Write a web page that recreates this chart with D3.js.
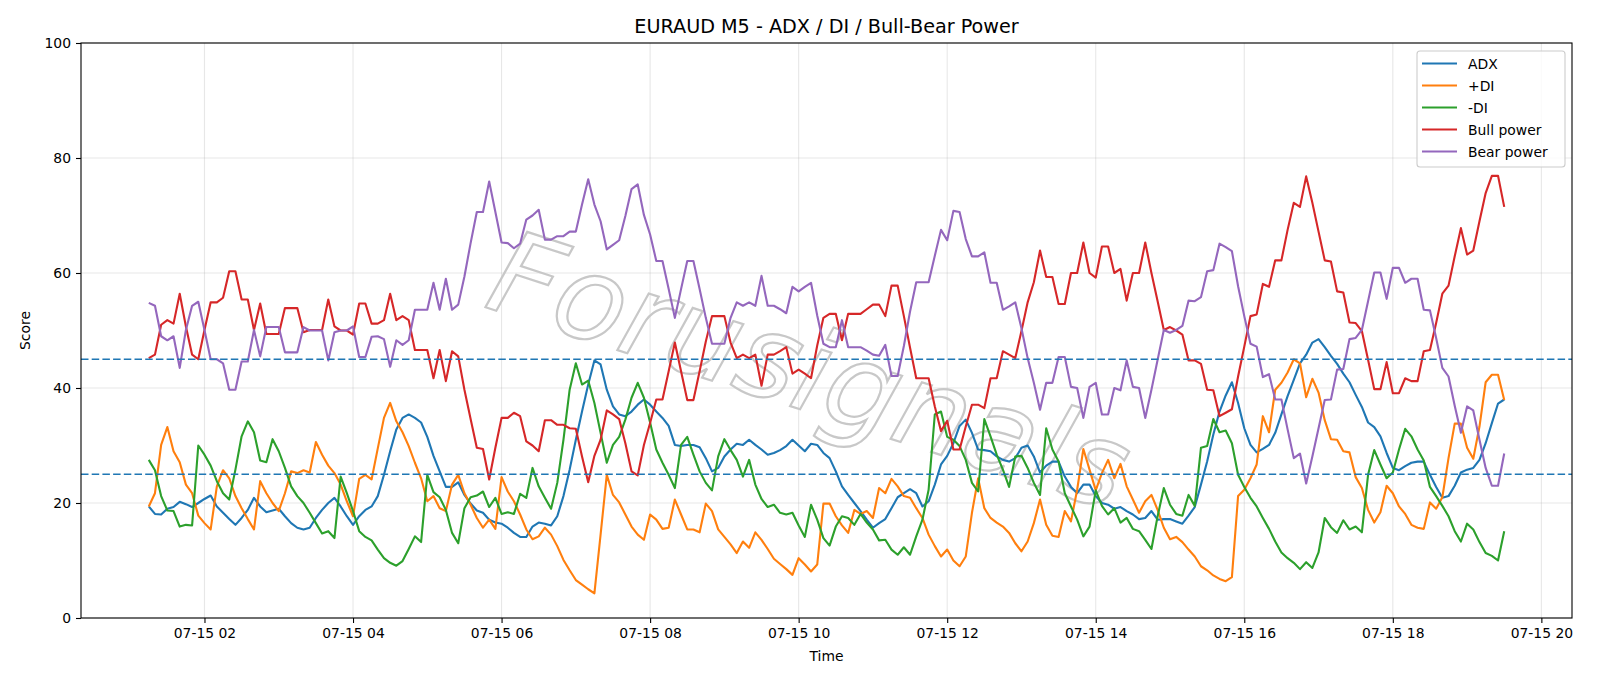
<!DOCTYPE html>
<html>
<head>
<meta charset="utf-8">
<script src="https://cdn.jsdelivr.net/npm/d3@7"></script>
<style>
  body { margin: 0; background: #fff; }
  svg { display: block; font-family: "DejaVu Sans", sans-serif; }
</style>
</head>
<body>
<svg id="chart" width="1600" height="686"></svg>
<script>
// 5 minute bars, 07-15 01:15 .. 19:30 (UTC)
const startTime = Date.UTC(2025, 6, 15, 1, 15);
const stepMinutes = 5;

const adx = [
  19.4, 18.1, 18, 19, 19.3, 20.2, 19.8, 19.3, 20, 20.7, 21.3, 19.4, 18.3, 17.2, 16.2, 17.4, 18.8, 20.9, 19.4, 18.4, 18.7, 19, 17.7, 16.5, 15.7, 15.4, 15.7, 17.4, 18.8, 20, 20.9, 19.4, 17.7, 16.2, 17.7, 18.8, 19.4,
  21.2, 24.9, 29, 32.8, 34.8, 35.4, 34.8, 34, 31.5, 28.2, 25.5, 22.8, 22.8, 23.6, 21.4, 19.9, 18.7, 18.3, 17.1, 16.6, 16.4, 15.7, 14.8, 14.1, 14.1, 15.9, 16.6, 16.4, 16.1, 17.7, 21.2, 25.8, 31, 35.9, 40.6, 44.8, 44.1,
  39.7, 36.8, 35.4, 35.1, 35.9, 37.1, 38, 37.1, 35.9, 34.8, 33.4, 30.1, 29.9, 30.1, 30.1, 29.7, 27.8, 25.5, 26.1, 28.1, 29.3, 30.3, 30.1, 31, 30.1, 29.3, 28.4, 28.7, 29.2, 29.9, 31, 30, 29, 30.3, 30.1, 28.7, 27.8,
  25.5, 22.9, 21.4, 20, 18.6, 17.1, 15.7, 16.5, 17.2, 19.1, 21, 21.7, 22.4, 21.7, 19.4, 20.3, 23.2, 26.7, 28.2, 30.4, 33.4, 34.5, 32.2, 29.3, 29.2, 29, 28.1, 27.5, 27.2, 27.8, 29.6, 30, 28.1, 25.3, 26.5, 27.2, 27.2,
  24.6, 22.8, 21.7, 23.2, 23.2, 21.2, 20, 19.7, 19, 19.3, 18.6, 18, 17.2, 17.4, 18.6, 17.1, 17.2, 17.2, 16.8, 16.4, 17.8, 19.3, 23.2, 27.2, 31.9, 35.9, 38.7, 41, 37.4, 33, 30.1, 28.8, 29.4, 30.1, 32.2, 35.4, 38.6,
  41.4, 44.3, 45.8, 47.9, 48.5, 47.1, 45.6, 44.2, 42.5, 41, 38.8, 36.7, 34, 33.2, 31.6, 28.7, 26.1, 25.7, 26.4, 27, 27.2, 27.2, 24.9, 22.8, 20.9, 21.2, 23, 25.3, 25.8, 26.1, 27.5, 30.4, 33.9, 37.3, 38
];

const plusDi = [
  19.4, 21.7, 30.1, 33.2, 29, 27.1, 23.2, 21.7, 17.8, 16.5, 15.4, 22.9, 25.7, 24.3, 21.2, 19.1, 17.2, 15.4, 23.8, 21.7, 20, 18.6, 21.7, 25.5, 25.2, 25.7, 25.3, 30.6, 28.4, 26.5, 25.2, 23.2, 20.3, 17.7, 24.2, 24.9, 24.1,
  29.5, 34.8, 37.4, 34.2, 32.3, 29.9, 27, 24.3, 20.3, 21.2, 19.1, 18.6, 23.2, 24.9, 21.7, 19.7, 17.4, 15.7, 17.1, 15.5, 24.5, 22, 20.3, 18, 15.4, 13.7, 14.2, 15.7, 14.5, 12.5, 10.1, 8.3, 6.6, 5.8, 5, 4.3, 14.5,
  24.9, 21.4, 20.1, 18, 15.9, 14.5, 13.6, 18, 17.1, 15.5, 15.7, 20.6, 18, 15.4, 15.4, 14.9, 19.9, 18.6, 15.4, 14.1, 12.8, 11.3, 13.3, 12.2, 14.9, 13.6, 12, 10.3, 9.4, 8.5, 7.5, 10.4, 9.3, 8.1, 9.3, 19.9, 19.9,
  17.7, 16.1, 14.8, 18.8, 18.1, 18.6, 17.4, 22.6, 21.7, 24.2, 22.9, 21.2, 20.9, 19.1, 17.4, 14.5, 12.5, 10.7, 11.9, 10, 9, 10.7, 18.3, 24.3, 19.1, 17.4, 16.6, 15.9, 14.8, 13, 11.6, 13.3, 16.5, 20.6, 16.2, 14.3, 14.1,
  18.6, 16.8, 22.3, 29.4, 25.8, 22.2, 25.2, 27.5, 24.3, 26.8, 22.9, 20.6, 18.3, 20.3, 21.4, 18.8, 15.7, 13.7, 14.1, 13.2, 11.9, 10.7, 9, 8.3, 7.4, 6.8, 6.4, 7.1, 21.2, 22.3, 24.3, 26.7, 35.1, 32.3, 39.7, 40.9, 42.7,
  45, 44.3, 38.4, 41.6, 39.2, 34.4, 31.1, 31, 29, 28.8, 24.5, 22.6, 18.8, 16.6, 18.4, 23, 21.7, 19.4, 18.1, 16.2, 15.7, 15.5, 20.1, 19, 21, 27.8, 33.8, 33.8, 29.6, 27.7, 33.3, 41, 42.3, 42.3, 37.9
];

const minusDi = [
  27.5, 25.7, 21.2, 18.7, 18.6, 15.9, 16.2, 16.1, 30, 28.4, 26.5, 23.8, 21.7, 20.6, 25.8, 31.6, 34.2, 32.3, 27.4, 27.1, 31.1, 29, 26.1, 22.9, 21.2, 20, 18.3, 16.5, 14.7, 15.1, 13.9, 24.6, 21.7, 18.6, 15.1, 14.1, 13.5,
  11.9, 10.4, 9.6, 9.1, 9.9, 12, 14.2, 13.2, 24.9, 21.9, 21, 18.8, 14.8, 13, 19.1, 21, 21.3, 22, 19.3, 20.9, 18.1, 18.4, 18.1, 21.6, 20.9, 26.1, 22.9, 20.9, 19, 23.5, 31, 39.7, 44.3, 40.6, 41.3, 37.4, 32.2,
  27, 30.1, 31.5, 34.5, 38.3, 40.9, 38.3, 34, 29.3, 27, 24.9, 22.6, 30.1, 31.5, 28.4, 25.5, 23.5, 22.2, 28.1, 31.1, 29.2, 27.5, 24.6, 27.5, 23.2, 20.7, 19.3, 19.7, 18.3, 18, 18.3, 16.1, 14.1, 19.7, 17.1, 13.9, 12.6,
  15.9, 17.7, 17.4, 16.2, 18.1, 16.6, 15.4, 13.5, 13.6, 11.9, 11, 12.3, 11, 14.2, 17.1, 22.3, 35.4, 35.9, 31.5, 31, 29.9, 27.5, 23.5, 22, 34.6, 31.6, 28.4, 25.8, 22.8, 28.1, 28.2, 26.1, 23.5, 21.4, 33, 29.3, 27.2,
  21.7, 19.4, 17.1, 14.2, 15.9, 22.2, 19.5, 18, 19.1, 16.6, 17.4, 15.5, 15.1, 13.6, 12, 17.7, 22.6, 19.7, 18.1, 17.8, 21.4, 19.5, 29.6, 29.9, 34.6, 32.3, 32.6, 30.4, 24.9, 22.8, 20.9, 19.4, 17.4, 15.5, 13.3, 11.4, 10.4,
  9.6, 8.5, 9.7, 8.7, 11.4, 17.4, 15.8, 14.8, 17, 15.4, 15.9, 14.9, 24.9, 29.2, 26.7, 24.3, 25.3, 29.3, 32.9, 31.6, 29.3, 27.4, 22.8, 21.2, 19.5, 17.7, 15.1, 13.3, 16.4, 15.4, 13.2, 11.3, 10.8, 10, 15.1
];

const bullPower = [
  45.2, 45.8, 51, 51.8, 51.2, 56.4, 50.7, 45.8, 45, 50.1, 54.9, 54.9, 55.7, 60.3, 60.3, 55.4, 55.4, 50.1, 54.7, 49.4, 49.4, 49.4, 53.9, 53.9, 53.9, 49.7, 50.1, 50.1, 50.1, 55.4, 50.7, 50, 50, 49.3, 54.7, 54.7, 51.2,
  51.2, 51.8, 56.4, 51.8, 52.5, 51.8, 46.6, 46.6, 46.6, 41.7, 46.6, 41.2, 46.4, 45.5, 39.7, 34.6, 29.6, 29.4, 24.1, 29.6, 34.8, 34.8, 35.7, 35.1, 30.7, 30, 29, 34.4, 34.4, 33.6, 33.6, 33, 32.9, 28.1, 23.6, 28.2, 31,
  36.1, 35.4, 34.6, 30.4, 25.5, 24.8, 30.1, 33.9, 38, 38, 42.9, 47.9, 42.9, 37.9, 37.9, 42.9, 48.1, 52.5, 52.5, 52.5, 47.9, 45.2, 45.8, 45.2, 45.8, 40.4, 45.8, 45.8, 46.4, 47.1, 42.5, 43.2, 42.5, 41.7, 47.4, 52.2, 52.9,
  52.9, 48.3, 52.9, 52.9, 52.9, 53.7, 54.5, 54.5, 52.5, 57.8, 57.8, 52.5, 47, 41.7, 41.7, 41.7, 36.8, 32.5, 34.3, 29.3, 29.3, 33.3, 37.1, 37.1, 36.5, 41.7, 41.7, 46.4, 45.8, 45.2, 49.9, 54.9, 58.4, 63.9, 59.3, 59.3, 54.6,
  54.6, 60, 60, 65.3, 60, 59.2, 64.6, 64.6, 60, 60.7, 55.2, 60, 60, 65.3, 60, 55.1, 50.1, 50.6, 50, 49.3, 44.8, 44.8, 44.2, 39.7, 39.6, 35.1, 35.7, 36.3, 42, 47.2, 52.5, 52.8, 58.1, 57.6, 62.2, 62.2, 67.5,
  72.2, 71.5, 76.8, 72.2, 67.2, 62.2, 62, 56.8, 56.6, 51.4, 51.3, 49.9, 44.9, 39.8, 39.8, 44.5, 39.1, 39.1, 41.7, 41.2, 41.2, 46.4, 46.6, 51.3, 56.4, 57.8, 62.9, 67.8, 63.2, 63.9, 69, 73.9, 76.9, 76.9, 71.5
];

const bearPower = [
  54.8, 54.3, 49, 48.3, 49, 43.5, 50.1, 54.3, 55, 50.1, 45, 45, 44.3, 39.7, 39.7, 44.6, 44.6, 50.1, 45.5, 50.6, 50.6, 50.6, 46.2, 46.2, 46.2, 50.6, 50, 50, 50, 44.8, 49.7, 50, 50, 50.7, 45.4, 45.4, 48.9,
  49, 48.5, 43.7, 48.3, 47.5, 48.3, 53.6, 53.6, 53.6, 58.3, 53.6, 59, 53.6, 54.5, 59.4, 65.2, 70.6, 70.6, 75.9, 70.6, 65.3, 65.2, 64.3, 65.1, 69.3, 70, 71, 65.8, 65.8, 66.4, 66.4, 67.2, 67.2, 71.9, 76.3, 71.9, 69,
  64.1, 64.9, 65.7, 69.9, 74.6, 75.4, 70.1, 66.7, 62.1, 62.1, 57.2, 52.2, 57.2, 62.1, 62.1, 57.2, 52.2, 47.7, 47.7, 47.7, 52.2, 54.9, 54.3, 54.9, 54.3, 59.5, 54.3, 54.3, 53.7, 53, 57.6, 56.8, 57.6, 58.3, 52.6, 47.7, 47.1,
  47.1, 51.8, 47.1, 47.1, 47.1, 46.5, 45.8, 45.6, 47.5, 42.1, 42.1, 47.3, 53.3, 58.4, 58.4, 58.4, 63, 67.5, 65.7, 70.8, 70.6, 65.9, 62.9, 62.9, 63.6, 58.3, 58.3, 53.6, 54.2, 54.9, 50.4, 45.2, 40.9, 36.2, 40.9, 40.9, 45.4,
  45.4, 40.2, 40, 34.8, 40.2, 40.9, 35.4, 35.4, 40, 39.6, 44.8, 40.2, 40, 34.8, 39.7, 44.9, 50.1, 49.6, 50.1, 50.8, 55.2, 55.1, 55.8, 60.3, 60.5, 65.1, 64.5, 63.8, 57.7, 52.5, 47.7, 47.2, 41.9, 42.4, 38, 38, 32.8,
  27.8, 28.6, 23.4, 28.1, 33, 37.9, 38, 43.2, 43.3, 48.5, 48.7, 50.1, 55.1, 60.1, 60.1, 55.5, 60.9, 60.9, 58.3, 59, 59, 53.6, 53.5, 48.7, 43.5, 42, 36.9, 32.2, 36.8, 36.1, 31, 26.1, 23, 23, 28.6
];

const seriesNames = ['ADX', '+DI', '-DI', 'Bull power', 'Bear power'];
const seriesColors = ['#1f77b4', '#ff7f0e', '#2ca02c', '#d62728', '#9467bd'];
const levels = [25, 45];
const yTicks = [0, 20, 40, 60, 80, 100];

const width = 1600;
const height = 686;
const margin = {top: 43, right: 28, bottom: 68, left: 81};
const fontSize = 13.9;

const svg = d3.select('#chart');

const times = adx.map((d, i) => new Date(startTime + i * stepMinutes * 60000));
const series = [adx, plusDi, minusDi, bullPower, bearPower];

// matplotlib style 5% x margins
const tMin = times[0].getTime();
const tMax = times[times.length - 1].getTime();
const pad = (tMax - tMin) * 0.05;

const xScale = d3.scaleUtc()
  .domain([new Date(tMin - pad), new Date(tMax + pad)])
  .range([margin.left, width - margin.right]);

const yScale = d3.scaleLinear()
  .domain([0, 100])
  .range([height - margin.bottom, margin.top]);

const xTicks = xScale.ticks(d3.utcHour.every(2));

// grid
const grid = svg.append('g').attr('class', 'grid')
  .attr('stroke', '#b0b0b0')
  .attr('stroke-opacity', 0.3)
  .attr('stroke-width', 1.1);

grid.selectAll('line.gx')
  .data(xTicks)
  .enter()
  .append('line')
  .attr('class', 'gx')
  .attr('x1', d => xScale(d))
  .attr('x2', d => xScale(d))
  .attr('y1', margin.top)
  .attr('y2', height - margin.bottom);

grid.selectAll('line.gy')
  .data(yTicks)
  .enter()
  .append('line')
  .attr('class', 'gy')
  .attr('x1', margin.left)
  .attr('x2', width - margin.right)
  .attr('y1', d => yScale(d))
  .attr('y2', d => yScale(d));

// watermark
svg.append('text')
  .attr('transform', 'translate(810,370) rotate(18)')
  .attr('text-anchor', 'middle')
  .attr('dominant-baseline', 'central')
  .style('font-size', '116px')
  .style('font-style', 'italic')
  .attr('fill', 'none')
  .attr('stroke', '#c8c8c8')
  .attr('stroke-width', 2.2)
  .text('Forusignals');

// series lines
const line = d3.line()
  .x((d, i) => xScale(times[i]))
  .y(d => yScale(d));

svg.append('g')
  .selectAll('path.series')
  .data(series)
  .enter()
  .append('path')
  .attr('class', 'series')
  .attr('d', d => line(d))
  .attr('fill', 'none')
  .attr('stroke', (d, i) => seriesColors[i])
  .attr('stroke-width', 2.1)
  .attr('stroke-linejoin', 'round');

// reference levels
svg.append('g')
  .selectAll('line.level')
  .data(levels)
  .enter()
  .append('line')
  .attr('class', 'level')
  .attr('x1', margin.left)
  .attr('x2', width - margin.right)
  .attr('y1', d => yScale(d))
  .attr('y2', d => yScale(d))
  .attr('stroke', '#1f77b4')
  .attr('stroke-width', 1.5)
  .attr('stroke-dasharray', '7.5,3.2');

// axes
const xAxis = svg.append('g')
  .attr('transform', 'translate(0,' + (height - margin.bottom) + ')')
  .call(d3.axisBottom(xScale)
    .tickValues(xTicks)
    .tickFormat(d3.utcFormat('%m-%d %H'))
    .tickSize(5)
    .tickPadding(5)
    .tickSizeOuter(0));

const yAxis = svg.append('g')
  .attr('transform', 'translate(' + margin.left + ',0)')
  .call(d3.axisLeft(yScale)
    .tickValues(yTicks)
    .tickSize(5)
    .tickPadding(5)
    .tickSizeOuter(0));

[xAxis, yAxis].forEach(ax => {
  ax.select('.domain').remove();
  ax.selectAll('text')
    .style('font-family', '"DejaVu Sans", sans-serif')
    .style('font-size', fontSize + 'px')
    .attr('fill', '#000');
  ax.selectAll('line').attr('stroke', '#000').attr('stroke-width', 1.1);
});

// frame
svg.append('rect')
  .attr('x', margin.left)
  .attr('y', margin.top)
  .attr('width', width - margin.left - margin.right)
  .attr('height', height - margin.top - margin.bottom)
  .attr('fill', 'none')
  .attr('stroke', '#000')
  .attr('stroke-width', 1.1);

// titles
const plotCenterX = (margin.left + width - margin.right) / 2;

svg.append('text')
  .attr('x', plotCenterX)
  .attr('y', 26.5)
  .attr('text-anchor', 'middle')
  .attr('dominant-baseline', 'central')
  .style('font-size', '19.2px')
  .text('EURAUD M5 - ADX / DI / Bull-Bear Power');

svg.append('text')
  .attr('x', plotCenterX)
  .attr('y', 656)
  .attr('text-anchor', 'middle')
  .attr('dominant-baseline', 'central')
  .style('font-size', fontSize + 'px')
  .text('Time');

svg.append('text')
  .attr('transform', 'translate(25,' + ((margin.top + height - margin.bottom) / 2) + ') rotate(-90)')
  .attr('text-anchor', 'middle')
  .attr('dominant-baseline', 'central')
  .style('font-size', fontSize + 'px')
  .text('Score');

// legend
const legend = svg.append('g').attr('class', 'legend');

legend.append('rect')
  .attr('x', 1417)
  .attr('y', 51)
  .attr('width', 148)
  .attr('height', 116)
  .attr('rx', 3)
  .attr('fill', '#fff')
  .attr('fill-opacity', 0.8)
  .attr('stroke', '#cccccc')
  .attr('stroke-width', 1.1);

const legendRows = legend.selectAll('g.row')
  .data(seriesNames)
  .enter()
  .append('g')
  .attr('class', 'row')
  .attr('transform', (d, i) => 'translate(1422,' + (63.5 + i * 22) + ')');

legendRows.append('line')
  .attr('x1', 0)
  .attr('x2', 35)
  .attr('stroke', (d, i) => seriesColors[i])
  .attr('stroke-width', 2.1);

legendRows.append('text')
  .attr('x', 46)
  .attr('dominant-baseline', 'central')
  .style('font-size', fontSize + 'px')
  .text(d => d);
</script>
</body>
</html>
